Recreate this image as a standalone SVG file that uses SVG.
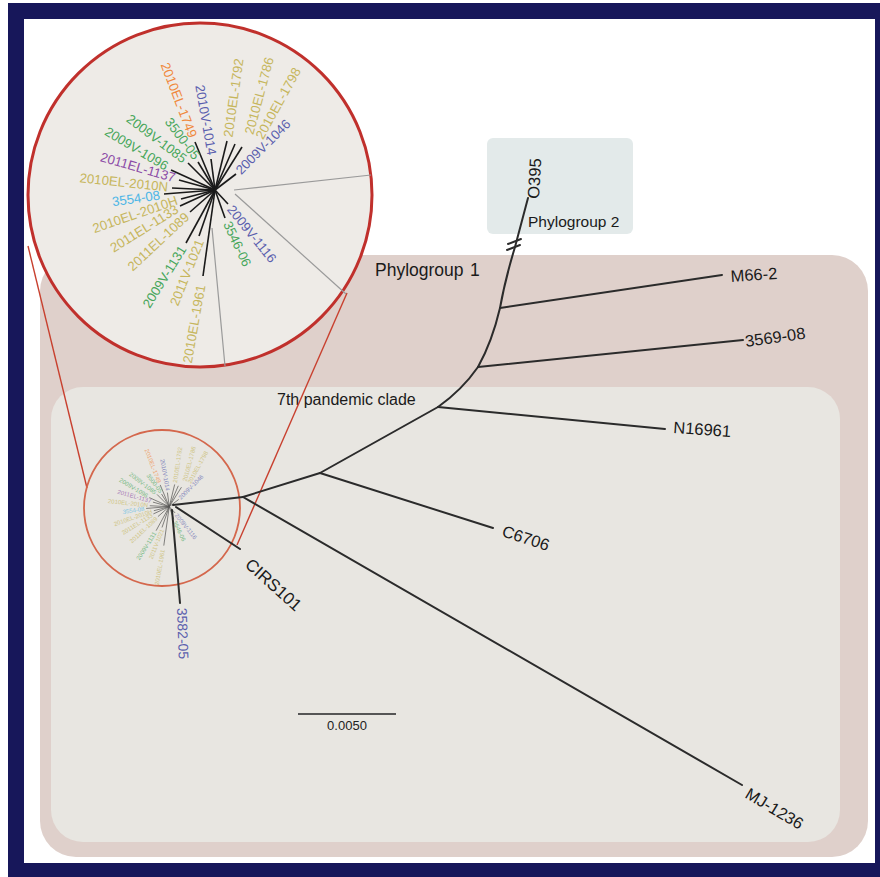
<svg xmlns="http://www.w3.org/2000/svg" xmlns:xlink="http://www.w3.org/1999/xlink" width="880" height="877" viewBox="0 0 880 877">
<style>
text{font-family:"Liberation Sans",Arial,sans-serif;}
.lbl{font-size:13.2px;dominant-baseline:central;}
.big{font-size:16.5px;fill:#1a1a1a;}
.br{stroke:#2b2b2b;stroke-width:2;fill:none;stroke-linecap:round;}
.sp{stroke:#1a1a1a;stroke-width:1.6;fill:none;}
.gl{stroke:#9a9a9a;stroke-width:1.2;fill:none;}
.red{stroke:#c8402f;stroke-width:1.4;fill:none;}
.or{fill:#f0883c}.bl{fill:#5a5eae}.gr{fill:#47a65a}.pu{fill:#8b4aa6}.ol{fill:#c6b65c}.lb{fill:#4db6e6}
</style>
<rect x="0" y="0" width="880" height="877" fill="#ffffff"/>
<rect x="8" y="3" width="872" height="874" fill="#17175a"/>
<rect x="24" y="19" width="851" height="844" fill="#ffffff"/>
<g id="phylogroup1">
<rect x="40" y="255" width="828" height="602" rx="36" fill="#dfd0cb"/>
<text x="375" y="276" style="font-size:17.5px" fill="#1a1a1a">Phylogroup<tspan x="470">1</tspan></text>
</g>
<g id="pandemic-clade">
<rect x="51" y="387" width="789" height="455" rx="32" fill="#e8e6e1"/>
<text x="277" y="405" style="font-size:16px" fill="#1a1a1a">7th pandemic clade</text>
</g>
<g id="phylogroup2">
<rect x="487" y="138" width="146" height="96" rx="6" fill="#e3eaea"/>
<text x="528" y="227" style="font-size:15.5px" fill="#1a1a1a">Phylogroup 2</text>
</g>
<g id="zoom-connectors">
<line class="red" x1="28" y1="246" x2="87" y2="488"/>
<line class="red" x1="347" y1="293" x2="237" y2="545"/>
</g>
<g id="zoom-circle">
<circle cx="200" cy="195" r="172" fill="#eeebe7" stroke="#c0302c" stroke-width="3"/>
<line class="gl" x1="234" y1="190" x2="371" y2="175"/>
<line class="gl" x1="235" y1="194" x2="346" y2="294"/>
<line class="gl" x1="212" y1="228" x2="225" y2="366"/>
</g>
<g id="zoom-content">
<g id="spokes">
<line class="sp" x1="215" y1="190" x2="195" y2="142"/>
<line class="sp" x1="215" y1="190" x2="211" y2="159"/>
<line class="sp" x1="215" y1="190" x2="198" y2="162"/>
<line class="sp" x1="215" y1="190" x2="188" y2="163"/>
<line class="sp" x1="215" y1="190" x2="171" y2="170"/>
<line class="sp" x1="215" y1="190" x2="179" y2="180"/>
<line class="sp" x1="215" y1="190" x2="172" y2="188"/>
<line class="sp" x1="215" y1="190" x2="164" y2="194"/>
<line class="sp" x1="215" y1="190" x2="181" y2="199"/>
<line class="sp" x1="215" y1="190" x2="180" y2="206"/>
<line class="sp" x1="215" y1="190" x2="190" y2="212"/>
<line class="sp" x1="215" y1="190" x2="186" y2="243"/>
<line class="sp" x1="215" y1="190" x2="199" y2="236"/>
<line class="sp" x1="215" y1="190" x2="203" y2="276"/>
<line class="sp" x1="215" y1="190" x2="227" y2="141"/>
<line class="sp" x1="215" y1="190" x2="235" y2="144"/>
<line class="sp" x1="215" y1="190" x2="242" y2="147"/>
<line class="sp" x1="215" y1="190" x2="236" y2="174"/>
<line class="sp" x1="215" y1="190" x2="228" y2="204"/>
<line class="sp" x1="215" y1="190" x2="225" y2="218"/>
</g>
<g id="n-2010EL-1749"><text class="lbl or" text-anchor="end" transform="translate(193,137) rotate(69)">2010EL-1749</text></g>
<g id="n-2010V-1014"><text class="lbl bl" text-anchor="end" transform="translate(212,155) rotate(80)">2010V-1014</text></g>
<g id="n-3500-05"><text class="lbl gr" text-anchor="end" transform="translate(197,158) rotate(53)">3500-05</text></g>
<g id="n-2009V-1085"><text class="lbl gr" text-anchor="end" transform="translate(185,160) rotate(37)">2009V-1085</text></g>
<g id="n-2009V-1096"><text class="lbl gr" text-anchor="end" transform="translate(167,167) rotate(31)">2009V-1096</text></g>
<g id="n-2011EL-1137"><text class="lbl pu" text-anchor="end" transform="translate(175,178) rotate(16)">2011EL-1137</text></g>
<g id="n-2010EL-2010N"><text class="lbl ol" text-anchor="end" transform="translate(168,187) rotate(6)">2010EL-2010N</text></g>
<g id="n-3554-08"><text class="lbl lb" text-anchor="end" transform="translate(160,195) rotate(-8)">3554-08</text></g>
<g id="n-2010EL-2010H"><text class="lbl ol" text-anchor="end" transform="translate(177,200) rotate(-19)">2010EL-2010H</text></g>
<g id="n-2011EL-1133"><text class="lbl ol" text-anchor="end" transform="translate(177,208) rotate(-32)">2011EL-1133</text></g>
<g id="n-2011EL-1089"><text class="lbl ol" text-anchor="end" transform="translate(187,215) rotate(-43)">2011EL-1089</text></g>
<g id="n-2009V-1131"><text class="lbl gr" text-anchor="end" transform="translate(183,247) rotate(-58)">2009V-1131</text></g>
<g id="n-2011V-1021"><text class="lbl ol" text-anchor="end" transform="translate(200,240) rotate(-68)">2011V-1021</text></g>
<g id="n-2010EL-1961"><text class="lbl ol" text-anchor="end" transform="translate(201,285) rotate(-80)">2010EL-1961</text></g>
<g id="n-2010EL-1792"><text class="lbl ol" text-anchor="start" transform="translate(228,137) rotate(-82)">2010EL-1792</text></g>
<g id="n-2010EL-1786"><text class="lbl ol" text-anchor="start" transform="translate(249,134) rotate(-75)">2010EL-1786</text></g>
<g id="n-2010EL-1798"><text class="lbl ol" text-anchor="start" transform="translate(259,138) rotate(-61)">2010EL-1798</text></g>
<g id="n-2009V-1046"><text class="lbl bl" text-anchor="start" transform="translate(238,172) rotate(-45)">2009V-1046</text></g>
<g id="n-2009V-1116"><text class="lbl bl" text-anchor="start" transform="translate(230,207) rotate(51)">2009V-1116</text></g>
<g id="n-3546-06"><text class="lbl gr" text-anchor="start" transform="translate(227,222) rotate(65)">3546-06</text></g>
</g>
<g id="small-circle">
<circle cx="162" cy="508" r="78" fill="none" stroke="#d4674c" stroke-width="1.8"/>
<use xlink:href="#zoom-content" href="#zoom-content" transform="translate(162,508) scale(0.453) translate(-199,-193)" opacity="0.7"/>
</g>
<g id="connectors">
<line class="br" x1="173" y1="505" x2="243" y2="497"/>
<line class="br" x1="243" y1="497" x2="742" y2="785"/>
<line class="br" x1="243" y1="497" x2="320" y2="473"/>
<line class="br" x1="320" y1="473" x2="493" y2="528"/>
<line class="br" x1="320" y1="473" x2="438" y2="407"/>
<line class="br" x1="438" y1="407" x2="665" y2="429"/>
<path class="br" d="M438,407 Q462,390 478,367"/>
<line class="br" x1="478" y1="367" x2="743" y2="340"/>
<path class="br" d="M478,367 Q492,342 500,308"/>
<line class="br" x1="500" y1="308" x2="722" y2="275"/>
<path class="br" d="M500,308 Q505,280 515,247 L528,198"/>
<line class="br" x1="508" y1="244" x2="521" y2="239" stroke-width="1.5"/>
<line class="br" x1="507" y1="250" x2="520" y2="245" stroke-width="1.5"/>
<line class="br" x1="176" y1="507" x2="240" y2="549"/>
<line class="br" x1="172" y1="510" x2="180" y2="603"/>
</g>
<g id="n-M66-2"><text class="big" transform="translate(731,282) rotate(-4)">M66-2</text></g>
<g id="n-3569-08"><text class="big" transform="translate(746,347) rotate(-8)">3569-08</text></g>
<g id="n-N16961"><text class="big" transform="translate(673,433) rotate(4)">N16961</text></g>
<g id="n-C6706"><text class="big" transform="translate(501,536) rotate(18)">C6706</text></g>
<g id="n-MJ-1236"><text class="big" transform="translate(744,797) rotate(31)">MJ-1236</text></g>
<g id="n-CIRS101"><text class="big" style="font-size:17px" transform="translate(244,566) rotate(42)">CIRS101</text></g>
<g id="n-O395"><text class="big" transform="translate(539,199) rotate(-87)">O395</text></g>
<g id="n-3582-05"><text class="big" style="font-size:14px;fill:#5a5eae" transform="translate(177,608) rotate(88)">3582-05</text></g>
<g id="scale-bar">
<line x1="298" y1="714" x2="396" y2="714" stroke="#555" stroke-width="2"/>
<text x="347" y="730" text-anchor="middle" style="font-size:13px" fill="#222">0.0050</text>
</g>
</svg>
